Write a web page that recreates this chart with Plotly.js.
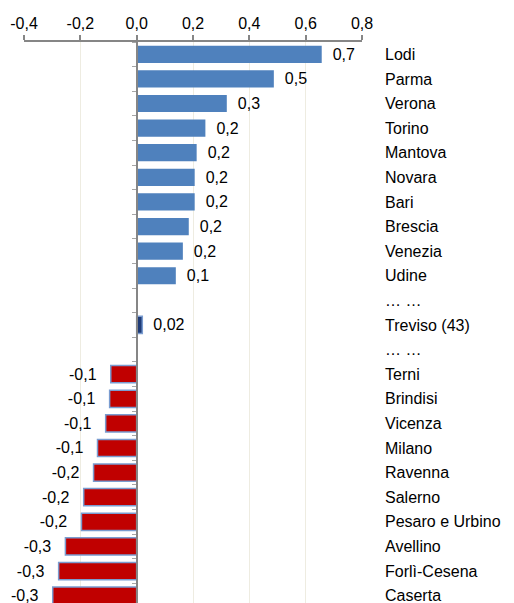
<!DOCTYPE html>
<html>
<head>
<meta charset="utf-8">
<script src="https://cdn.plot.ly/plotly-3.0.1.min.js"></script>
<style>html,body{margin:0;padding:0;background:#fff;}</style>
</head>
<body>
<div id="chart" style="width:514px;height:603px;"></div>
<script>
// Data
const categories = ["Lodi","Parma","Verona","Torino","Mantova","Novara","Bari","Brescia","Venezia","Udine",
  "\u2026 \u2026","Treviso (43)","\u2026 \u2026\u200b",
  "Terni","Brindisi","Vicenza","Milano","Ravenna","Salerno","Pesaro e Urbino","Avellino","Forlì-Cesena","Caserta"];
const values = [0.657,0.487,0.32,0.244,0.213,0.206,0.206,0.185,0.164,0.139,
  null,0.02,null,
  -0.092,-0.096,-0.11,-0.139,-0.153,-0.188,-0.196,-0.253,-0.277,-0.298];
const xTicks = [-0.4,-0.2,0.0,0.2,0.4,0.6,0.8];

const fmt = v => (Math.abs(v) < 0.05 ? v.toFixed(2) : v.toFixed(1)).replace('.', ',');
const labels = values.map(v => v === null ? '' : (v >= 0 ? '\u2002' + fmt(v) : fmt(v) + '\u2002\u2009'));
const isSpecial = (c, i) => values[i] !== null && (values[i] < 0 || c.startsWith('Treviso'));
const fills = categories.map((c, i) => values[i] === null ? 'rgba(0,0,0,0)' :
  (c.startsWith('Treviso') ? '#1F3C78' : (values[i] < 0 ? '#C00000' : '#4F81BD')));
const lines = categories.map((c, i) => isSpecial(c, i) ? '#7A9CD0' : '#4F81BD');
const lineW = categories.map((c, i) => isSpecial(c, i) ? 1.5 : 0);

const FONT = 'Liberation Sans, Arial, sans-serif';
const bars = {
  type: 'bar', orientation: 'h', x: values, y: categories,
  marker: {color: fills, line: {color: lines, width: lineW}},
  text: labels, textposition: 'outside', cliponaxis: false,
  textfont: {family: FONT, size: 16, color: '#000'},
  hoverinfo: 'skip'
};
const axisHelper = {
  type: 'scatter', mode: 'markers', x: categories.map(() => 0), y: categories,
  yaxis: 'y2', marker: {opacity: 0}, hoverinfo: 'skip', showlegend: false
};

const layout = {
  width: 514, height: 603,
  margin: {l: 24, r: 152, t: 42, b: 0},
  paper_bgcolor: '#fff', plot_bgcolor: '#fff',
  showlegend: false, bargap: 0.3,
  font: {family: FONT, size: 16, color: '#000'},
  xaxis: {
    side: 'top', range: [-0.4, 0.8], tickvals: xTicks,
    ticktext: xTicks.map(v => v.toFixed(1).replace('.', ',')),
    ticks: 'outside', ticklen: 5, tickwidth: 2, tickcolor: '#868686',
    showline: true, linecolor: '#868686', linewidth: 2,
    showgrid: true, gridcolor: '#EEECE1', gridwidth: 1,
    zeroline: false, fixedrange: true,
    tickfont: {size: 16, color: '#000'}
  },
  yaxis: {
    type: 'category', categoryorder: 'array', categoryarray: categories,
    range: [22.3, -0.5], side: 'right', ticks: '', showline: false,
    showgrid: false, zeroline: false, ticklabelstandoff: 22,
    tickfont: {size: 16, color: '#000'}
  },
  yaxis2: {
    type: 'category', categoryorder: 'array', categoryarray: categories,
    range: [22.3, -0.5], overlaying: 'y', anchor: 'free', position: 113/338,
    side: 'left', showticklabels: false, ticks: 'outside', tickson: 'boundaries',
    ticklen: 4, tickwidth: 1, tickcolor: '#A6A6A6',
    showline: true, linecolor: '#868686', linewidth: 2, showgrid: false, zeroline: false
  }
};

Plotly.newPlot('chart', [bars, axisHelper], layout, {staticPlot: true, displayModeBar: false});
</script>
</body>
</html>
